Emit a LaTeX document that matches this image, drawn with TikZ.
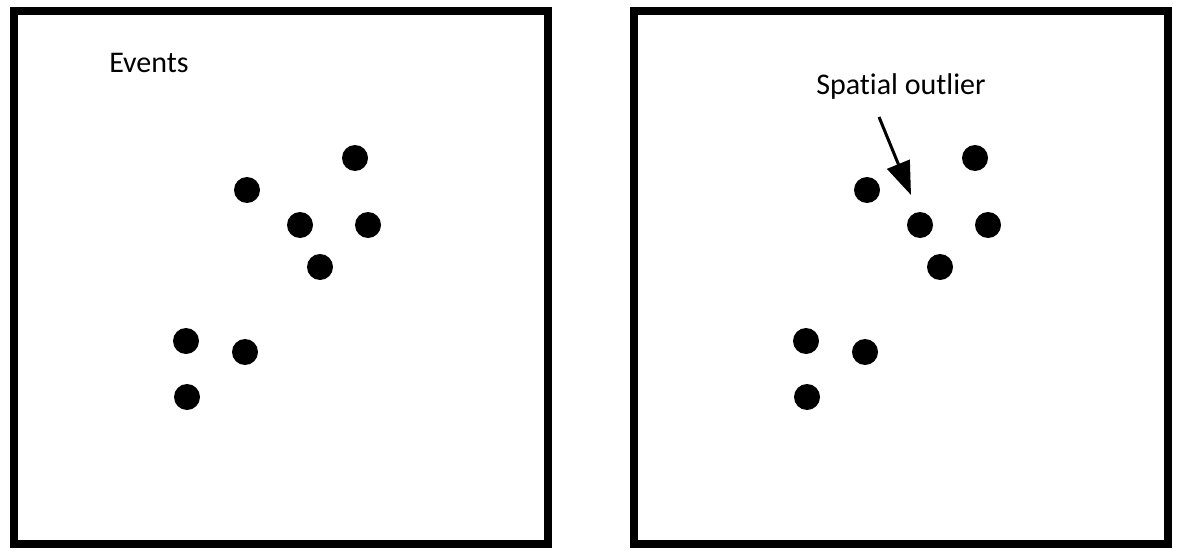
\documentclass[tikz,border=0pt]{standalone}
\usepackage{fontspec}
\setmainfont[Ligatures={NoCommon},RawFeature={-liga;-clig;-calt;-dlig}]{Carlito}
\usetikzlibrary{arrows.meta}
\begin{document}
\begin{tikzpicture}[x=0.75pt,y=-0.75pt,
  frame/.style={draw=black,line width=6pt,line join=miter},
  event/.style={circle,fill=black,inner sep=0pt,minimum size=19.5pt},
  lbl/.style={font=\fontsize{22.5}{27}\selectfont,inner sep=0pt,anchor=base west},
  pointer/.style={line width=2.25pt,-{Triangle[length=25pt,width=18pt]}}]
\useasboundingbox (0,0) rectangle (1180,556);
\draw[frame] (14,11) rectangle (548,544);
\draw[frame] (634,11) rectangle (1168,544);
\node[lbl] (events) at (109,73) {Events};
\foreach \n/\x/\y in {a/355/158,b/247/190,c/300/225,d/368/225,e/320/267,f/186/341,g/245/352,h/187/397}{
  \node[event] (L\n) at (\x,\y) {};
  \node[event] (R\n) at (\x+620,\y) {};
}
\node[lbl] (outlier) at (816,95) {Spat\kern0pt ial outlier};
\coordinate (arrowstart) at (879,117);
\coordinate (arrowtip) at (911,195);
\draw[pointer] (arrowstart) -- (arrowtip);
\end{tikzpicture}
\end{document}
